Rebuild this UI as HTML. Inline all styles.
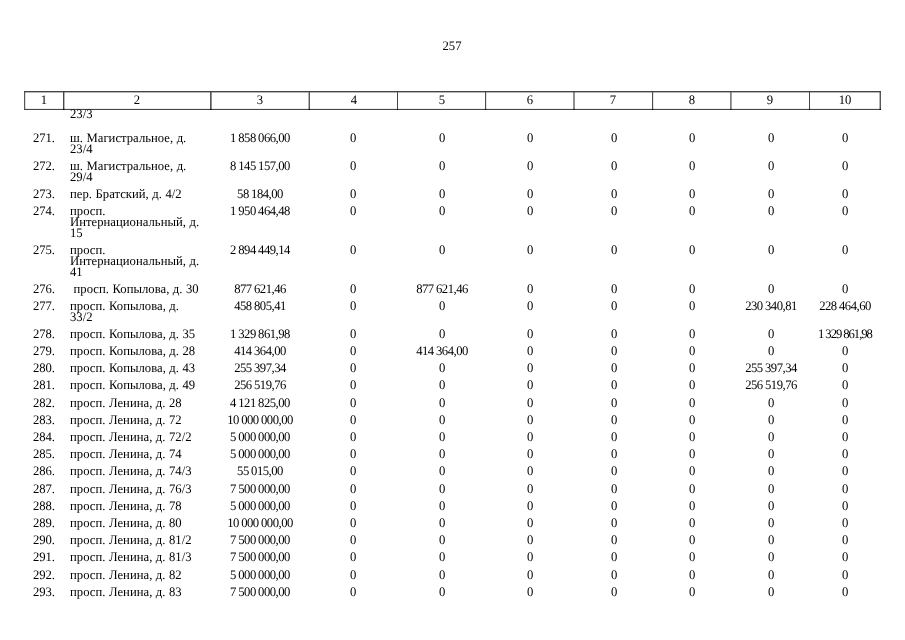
<!DOCTYPE html>
<html lang="ru"><head><meta charset="utf-8"><title>257</title>
<style>
html,body{margin:0;padding:0;background:#fff;}
body{width:905px;height:640px;position:relative;overflow:hidden;color:#000;text-rendering:geometricPrecision;
 font-family:"Liberation Serif",serif;font-size:13.0px;line-height:11px;}
.pg{position:absolute;left:402.1px;width:100px;transform:scaleX(0.975);transform-origin:50% 0;text-align:center;font-size:13px;line-height:14px;}
.grid{position:absolute;left:0;top:0;}
.hn{text-align:center;width:60px;margin-left:-30px;font-size:13.0px;}
.t{position:absolute;white-space:nowrap;transform:scaleX(0.975);transform-origin:50% 0;}
.n{text-align:center;width:60px;margin-left:-30px;letter-spacing:-0.05px;}
.v{text-align:center;width:90px;margin-left:-45px;letter-spacing:-0.52px;word-spacing:-0.3px;}
.a{transform-origin:0 0;left:69.8px;letter-spacing:0.02px;word-spacing:0.3px;}
</style></head><body>
<div class="pg" style="top:39.11px">257</div>
<svg class="grid" width="905" height="120" viewBox="0 0 905 120"><rect x="24.10" y="91.00" width="856.80" height="1.40" fill="#464646"/><rect x="24.10" y="108.90" width="856.80" height="1.10" fill="#464646"/><rect x="24.10" y="91.00" width="1.10" height="19.00" fill="#464646"/><rect x="63.00" y="91.00" width="1.40" height="19.00" fill="#464646"/><rect x="210.10" y="91.00" width="1.50" height="19.00" fill="#464646"/><rect x="308.60" y="91.00" width="1.30" height="19.00" fill="#464646"/><rect x="397.00" y="91.00" width="1.00" height="19.00" fill="#464646"/><rect x="485.05" y="91.00" width="1.10" height="19.00" fill="#464646"/><rect x="573.40" y="91.00" width="1.20" height="19.00" fill="#464646"/><rect x="652.05" y="91.00" width="1.10" height="19.00" fill="#464646"/><rect x="730.30" y="91.00" width="1.20" height="19.00" fill="#464646"/><rect x="809.00" y="91.00" width="1.00" height="19.00" fill="#464646"/><rect x="879.60" y="91.00" width="1.30" height="19.00" fill="#464646"/><rect x="63.00" y="108.90" width="1.40" height="1.10" fill="#000"/><rect x="210.10" y="108.90" width="1.50" height="1.10" fill="#000"/><rect x="308.60" y="108.90" width="1.30" height="1.10" fill="#000"/><rect x="397.00" y="108.90" width="1.00" height="1.10" fill="#000"/><rect x="485.05" y="108.90" width="1.10" height="1.10" fill="#000"/><rect x="573.40" y="108.90" width="1.20" height="1.10" fill="#000"/><rect x="652.05" y="108.90" width="1.10" height="1.10" fill="#000"/><rect x="730.30" y="108.90" width="1.20" height="1.10" fill="#000"/><rect x="809.00" y="108.90" width="1.00" height="1.10" fill="#000"/><rect x="879.60" y="108.90" width="1.30" height="1.10" fill="#000"/></svg>
<div class="t hn" style="left:44.0px;top:94.11px">1</div>
<div class="t hn" style="left:137.0px;top:94.11px">2</div>
<div class="t hn" style="left:260.0px;top:94.11px">3</div>
<div class="t hn" style="left:353.5px;top:94.11px">4</div>
<div class="t hn" style="left:441.5px;top:94.11px">5</div>
<div class="t hn" style="left:529.5px;top:94.11px">6</div>
<div class="t hn" style="left:613.0px;top:94.11px">7</div>
<div class="t hn" style="left:691.5px;top:94.11px">8</div>
<div class="t hn" style="left:770.0px;top:94.11px">9</div>
<div class="t hn" style="left:845.0px;top:94.11px">10</div>
<div class="t a" style="top:108.41px">23/3</div>
<div class="t n" style="left:43.7px;top:132.11px">271.</div><div class="t a" style="top:132.11px">ш. Магистральное, д.<br>23/4</div><div class="t v" style="left:259.9px;top:132.11px">1 858 066,00</div><div class="t v" style="left:353.4px;top:132.11px">0</div><div class="t v" style="left:442.0px;top:132.11px">0</div><div class="t v" style="left:530.4px;top:132.11px">0</div><div class="t v" style="left:613.9px;top:132.11px">0</div><div class="t v" style="left:691.9px;top:132.11px">0</div><div class="t v" style="left:770.5px;top:132.11px">0</div><div class="t v" style="left:845.1px;top:132.11px">0</div>
<div class="t n" style="left:43.7px;top:160.11px">272.</div><div class="t a" style="top:160.11px">ш. Магистральное, д.<br>29/4</div><div class="t v" style="left:259.9px;top:160.11px">8 145 157,00</div><div class="t v" style="left:353.4px;top:160.11px">0</div><div class="t v" style="left:442.0px;top:160.11px">0</div><div class="t v" style="left:530.4px;top:160.11px">0</div><div class="t v" style="left:613.9px;top:160.11px">0</div><div class="t v" style="left:691.9px;top:160.11px">0</div><div class="t v" style="left:770.5px;top:160.11px">0</div><div class="t v" style="left:845.1px;top:160.11px">0</div>
<div class="t n" style="left:43.7px;top:187.91px">273.</div><div class="t a" style="top:187.91px">пер. Братский, д. 4/2</div><div class="t v" style="left:259.9px;top:187.91px">58 184,00</div><div class="t v" style="left:353.4px;top:187.91px">0</div><div class="t v" style="left:442.0px;top:187.91px">0</div><div class="t v" style="left:530.4px;top:187.91px">0</div><div class="t v" style="left:613.9px;top:187.91px">0</div><div class="t v" style="left:691.9px;top:187.91px">0</div><div class="t v" style="left:770.5px;top:187.91px">0</div><div class="t v" style="left:845.1px;top:187.91px">0</div>
<div class="t n" style="left:43.7px;top:205.21px">274.</div><div class="t a" style="top:205.21px">просп.<br>Интернациональный, д.<br>15</div><div class="t v" style="left:259.9px;top:205.21px">1 950 464,48</div><div class="t v" style="left:353.4px;top:205.21px">0</div><div class="t v" style="left:442.0px;top:205.21px">0</div><div class="t v" style="left:530.4px;top:205.21px">0</div><div class="t v" style="left:613.9px;top:205.21px">0</div><div class="t v" style="left:691.9px;top:205.21px">0</div><div class="t v" style="left:770.5px;top:205.21px">0</div><div class="t v" style="left:845.1px;top:205.21px">0</div>
<div class="t n" style="left:43.7px;top:243.81px">275.</div><div class="t a" style="top:243.81px">просп.<br>Интернациональный, д.<br>41</div><div class="t v" style="left:259.9px;top:243.81px">2 894 449,14</div><div class="t v" style="left:353.4px;top:243.81px">0</div><div class="t v" style="left:442.0px;top:243.81px">0</div><div class="t v" style="left:530.4px;top:243.81px">0</div><div class="t v" style="left:613.9px;top:243.81px">0</div><div class="t v" style="left:691.9px;top:243.81px">0</div><div class="t v" style="left:770.5px;top:243.81px">0</div><div class="t v" style="left:845.1px;top:243.81px">0</div>
<div class="t n" style="left:43.7px;top:282.71px">276.</div><div class="t a" style="top:282.71px"> просп. Копылова, д. 30</div><div class="t v" style="left:259.9px;top:282.71px">877 621,46</div><div class="t v" style="left:353.4px;top:282.71px">0</div><div class="t v" style="left:442.0px;top:282.71px">877 621,46</div><div class="t v" style="left:530.4px;top:282.71px">0</div><div class="t v" style="left:613.9px;top:282.71px">0</div><div class="t v" style="left:691.9px;top:282.71px">0</div><div class="t v" style="left:770.5px;top:282.71px">0</div><div class="t v" style="left:845.1px;top:282.71px">0</div>
<div class="t n" style="left:43.7px;top:300.21px">277.</div><div class="t a" style="top:300.21px">просп. Копылова, д.<br>33/2</div><div class="t v" style="left:259.9px;top:300.21px">458 805,41</div><div class="t v" style="left:353.4px;top:300.21px">0</div><div class="t v" style="left:442.0px;top:300.21px">0</div><div class="t v" style="left:530.4px;top:300.21px">0</div><div class="t v" style="left:613.9px;top:300.21px">0</div><div class="t v" style="left:691.9px;top:300.21px">0</div><div class="t v" style="left:770.5px;top:300.21px">230 340,81</div><div class="t v" style="left:845.1px;top:300.21px">228 464,60</div>
<div class="t n" style="left:43.7px;top:327.71px">278.</div><div class="t a" style="top:327.71px">просп. Копылова, д. 35</div><div class="t v" style="left:259.9px;top:327.71px">1 329 861,98</div><div class="t v" style="left:353.4px;top:327.71px">0</div><div class="t v" style="left:442.0px;top:327.71px">0</div><div class="t v" style="left:530.4px;top:327.71px">0</div><div class="t v" style="left:613.9px;top:327.71px">0</div><div class="t v" style="left:691.9px;top:327.71px">0</div><div class="t v" style="left:770.5px;top:327.71px">0</div><div class="t v" style="left:845.1px;top:327.71px;letter-spacing:-1.05px;word-spacing:-0.2px">1 329 861,98</div>
<div class="t n" style="left:43.7px;top:344.91px">279.</div><div class="t a" style="top:344.91px">просп. Копылова, д. 28</div><div class="t v" style="left:259.9px;top:344.91px">414 364,00</div><div class="t v" style="left:353.4px;top:344.91px">0</div><div class="t v" style="left:442.0px;top:344.91px">414 364,00</div><div class="t v" style="left:530.4px;top:344.91px">0</div><div class="t v" style="left:613.9px;top:344.91px">0</div><div class="t v" style="left:691.9px;top:344.91px">0</div><div class="t v" style="left:770.5px;top:344.91px">0</div><div class="t v" style="left:845.1px;top:344.91px">0</div>
<div class="t n" style="left:43.7px;top:362.11px">280.</div><div class="t a" style="top:362.11px">просп. Копылова, д. 43</div><div class="t v" style="left:259.9px;top:362.11px">255 397,34</div><div class="t v" style="left:353.4px;top:362.11px">0</div><div class="t v" style="left:442.0px;top:362.11px">0</div><div class="t v" style="left:530.4px;top:362.11px">0</div><div class="t v" style="left:613.9px;top:362.11px">0</div><div class="t v" style="left:691.9px;top:362.11px">0</div><div class="t v" style="left:770.5px;top:362.11px">255 397,34</div><div class="t v" style="left:845.1px;top:362.11px">0</div>
<div class="t n" style="left:43.7px;top:379.31px">281.</div><div class="t a" style="top:379.31px">просп. Копылова, д. 49</div><div class="t v" style="left:259.9px;top:379.31px">256 519,76</div><div class="t v" style="left:353.4px;top:379.31px">0</div><div class="t v" style="left:442.0px;top:379.31px">0</div><div class="t v" style="left:530.4px;top:379.31px">0</div><div class="t v" style="left:613.9px;top:379.31px">0</div><div class="t v" style="left:691.9px;top:379.31px">0</div><div class="t v" style="left:770.5px;top:379.31px">256 519,76</div><div class="t v" style="left:845.1px;top:379.31px">0</div>
<div class="t n" style="left:43.7px;top:396.51px">282.</div><div class="t a" style="top:396.51px">просп. Ленина, д. 28</div><div class="t v" style="left:259.9px;top:396.51px">4 121 825,00</div><div class="t v" style="left:353.4px;top:396.51px">0</div><div class="t v" style="left:442.0px;top:396.51px">0</div><div class="t v" style="left:530.4px;top:396.51px">0</div><div class="t v" style="left:613.9px;top:396.51px">0</div><div class="t v" style="left:691.9px;top:396.51px">0</div><div class="t v" style="left:770.5px;top:396.51px">0</div><div class="t v" style="left:845.1px;top:396.51px">0</div>
<div class="t n" style="left:43.7px;top:413.71px">283.</div><div class="t a" style="top:413.71px">просп. Ленина, д. 72</div><div class="t v" style="left:259.9px;top:413.71px">10 000 000,00</div><div class="t v" style="left:353.4px;top:413.71px">0</div><div class="t v" style="left:442.0px;top:413.71px">0</div><div class="t v" style="left:530.4px;top:413.71px">0</div><div class="t v" style="left:613.9px;top:413.71px">0</div><div class="t v" style="left:691.9px;top:413.71px">0</div><div class="t v" style="left:770.5px;top:413.71px">0</div><div class="t v" style="left:845.1px;top:413.71px">0</div>
<div class="t n" style="left:43.7px;top:430.91px">284.</div><div class="t a" style="top:430.91px">просп. Ленина, д. 72/2</div><div class="t v" style="left:259.9px;top:430.91px">5 000 000,00</div><div class="t v" style="left:353.4px;top:430.91px">0</div><div class="t v" style="left:442.0px;top:430.91px">0</div><div class="t v" style="left:530.4px;top:430.91px">0</div><div class="t v" style="left:613.9px;top:430.91px">0</div><div class="t v" style="left:691.9px;top:430.91px">0</div><div class="t v" style="left:770.5px;top:430.91px">0</div><div class="t v" style="left:845.1px;top:430.91px">0</div>
<div class="t n" style="left:43.7px;top:448.11px">285.</div><div class="t a" style="top:448.11px">просп. Ленина, д. 74</div><div class="t v" style="left:259.9px;top:448.11px">5 000 000,00</div><div class="t v" style="left:353.4px;top:448.11px">0</div><div class="t v" style="left:442.0px;top:448.11px">0</div><div class="t v" style="left:530.4px;top:448.11px">0</div><div class="t v" style="left:613.9px;top:448.11px">0</div><div class="t v" style="left:691.9px;top:448.11px">0</div><div class="t v" style="left:770.5px;top:448.11px">0</div><div class="t v" style="left:845.1px;top:448.11px">0</div>
<div class="t n" style="left:43.7px;top:465.31px">286.</div><div class="t a" style="top:465.31px">просп. Ленина, д. 74/3</div><div class="t v" style="left:259.9px;top:465.31px">55 015,00</div><div class="t v" style="left:353.4px;top:465.31px">0</div><div class="t v" style="left:442.0px;top:465.31px">0</div><div class="t v" style="left:530.4px;top:465.31px">0</div><div class="t v" style="left:613.9px;top:465.31px">0</div><div class="t v" style="left:691.9px;top:465.31px">0</div><div class="t v" style="left:770.5px;top:465.31px">0</div><div class="t v" style="left:845.1px;top:465.31px">0</div>
<div class="t n" style="left:43.7px;top:482.51px">287.</div><div class="t a" style="top:482.51px">просп. Ленина, д. 76/3</div><div class="t v" style="left:259.9px;top:482.51px">7 500 000,00</div><div class="t v" style="left:353.4px;top:482.51px">0</div><div class="t v" style="left:442.0px;top:482.51px">0</div><div class="t v" style="left:530.4px;top:482.51px">0</div><div class="t v" style="left:613.9px;top:482.51px">0</div><div class="t v" style="left:691.9px;top:482.51px">0</div><div class="t v" style="left:770.5px;top:482.51px">0</div><div class="t v" style="left:845.1px;top:482.51px">0</div>
<div class="t n" style="left:43.7px;top:499.71px">288.</div><div class="t a" style="top:499.71px">просп. Ленина, д. 78</div><div class="t v" style="left:259.9px;top:499.71px">5 000 000,00</div><div class="t v" style="left:353.4px;top:499.71px">0</div><div class="t v" style="left:442.0px;top:499.71px">0</div><div class="t v" style="left:530.4px;top:499.71px">0</div><div class="t v" style="left:613.9px;top:499.71px">0</div><div class="t v" style="left:691.9px;top:499.71px">0</div><div class="t v" style="left:770.5px;top:499.71px">0</div><div class="t v" style="left:845.1px;top:499.71px">0</div>
<div class="t n" style="left:43.7px;top:516.91px">289.</div><div class="t a" style="top:516.91px">просп. Ленина, д. 80</div><div class="t v" style="left:259.9px;top:516.91px">10 000 000,00</div><div class="t v" style="left:353.4px;top:516.91px">0</div><div class="t v" style="left:442.0px;top:516.91px">0</div><div class="t v" style="left:530.4px;top:516.91px">0</div><div class="t v" style="left:613.9px;top:516.91px">0</div><div class="t v" style="left:691.9px;top:516.91px">0</div><div class="t v" style="left:770.5px;top:516.91px">0</div><div class="t v" style="left:845.1px;top:516.91px">0</div>
<div class="t n" style="left:43.7px;top:534.11px">290.</div><div class="t a" style="top:534.11px">просп. Ленина, д. 81/2</div><div class="t v" style="left:259.9px;top:534.11px">7 500 000,00</div><div class="t v" style="left:353.4px;top:534.11px">0</div><div class="t v" style="left:442.0px;top:534.11px">0</div><div class="t v" style="left:530.4px;top:534.11px">0</div><div class="t v" style="left:613.9px;top:534.11px">0</div><div class="t v" style="left:691.9px;top:534.11px">0</div><div class="t v" style="left:770.5px;top:534.11px">0</div><div class="t v" style="left:845.1px;top:534.11px">0</div>
<div class="t n" style="left:43.7px;top:551.31px">291.</div><div class="t a" style="top:551.31px">просп. Ленина, д. 81/3</div><div class="t v" style="left:259.9px;top:551.31px">7 500 000,00</div><div class="t v" style="left:353.4px;top:551.31px">0</div><div class="t v" style="left:442.0px;top:551.31px">0</div><div class="t v" style="left:530.4px;top:551.31px">0</div><div class="t v" style="left:613.9px;top:551.31px">0</div><div class="t v" style="left:691.9px;top:551.31px">0</div><div class="t v" style="left:770.5px;top:551.31px">0</div><div class="t v" style="left:845.1px;top:551.31px">0</div>
<div class="t n" style="left:43.7px;top:568.51px">292.</div><div class="t a" style="top:568.51px">просп. Ленина, д. 82</div><div class="t v" style="left:259.9px;top:568.51px">5 000 000,00</div><div class="t v" style="left:353.4px;top:568.51px">0</div><div class="t v" style="left:442.0px;top:568.51px">0</div><div class="t v" style="left:530.4px;top:568.51px">0</div><div class="t v" style="left:613.9px;top:568.51px">0</div><div class="t v" style="left:691.9px;top:568.51px">0</div><div class="t v" style="left:770.5px;top:568.51px">0</div><div class="t v" style="left:845.1px;top:568.51px">0</div>
<div class="t n" style="left:43.7px;top:585.71px">293.</div><div class="t a" style="top:585.71px">просп. Ленина, д. 83</div><div class="t v" style="left:259.9px;top:585.71px">7 500 000,00</div><div class="t v" style="left:353.4px;top:585.71px">0</div><div class="t v" style="left:442.0px;top:585.71px">0</div><div class="t v" style="left:530.4px;top:585.71px">0</div><div class="t v" style="left:613.9px;top:585.71px">0</div><div class="t v" style="left:691.9px;top:585.71px">0</div><div class="t v" style="left:770.5px;top:585.71px">0</div><div class="t v" style="left:845.1px;top:585.71px">0</div>
</body></html>
